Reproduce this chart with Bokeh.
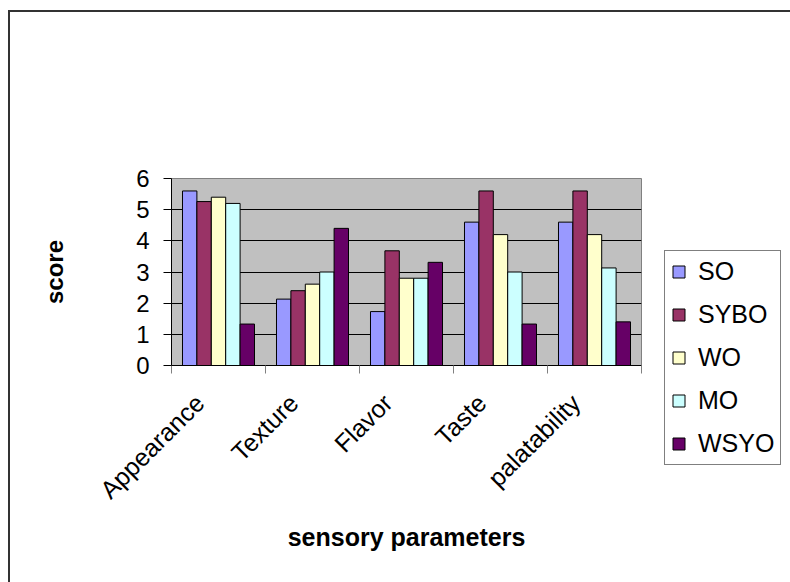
import numpy as np
from bokeh.plotting import figure
from bokeh.models import ColumnDataSource, FixedTicker, Legend, LegendItem, Range1d
from bokeh.embed import file_html
from bokeh.resources import INLINE

categories = ["Appearance", "Texture", "Flavor", "Taste", "palatability"]
series_names = ["SO", "SYBO", "WO", "MO", "WSYO"]
SO = [5.6, 2.13, 1.73, 4.6, 4.6]
SYBO = [5.26, 2.4, 3.68, 5.6, 5.6]
WO = [5.4, 2.61, 2.8, 4.2, 4.2]
MO = [5.2, 3.0, 2.8, 3.0, 3.13]
WSYO = [1.33, 4.4, 3.31, 1.33, 1.4]
series_values = [SO, SYBO, WO, MO, WSYO]
colors = ["#9999FF", "#993366", "#FFFFCC", "#CCFFFF", "#660066"]
y_ticks = [0, 1, 2, 3, 4, 5, 6]

FONT = "Liberation Sans"
n_cat = len(categories)
n_ser = len(series_names)
bar_w = 0.766 / n_ser

p = figure(
    output_backend="svg", toolbar_location=None,
    width=780, height=570,
    frame_width=470, frame_height=187,
    min_border_left=161, min_border_top=166, min_border_right=149, min_border_bottom=217,
    x_range=Range1d(0, n_cat), y_range=Range1d(0, 6),
    background_fill_color="#C0C0C0", border_fill_color="white",
    outline_line_color="#808080",
    styles={"border-left": "2px solid #333333", "border-top": "2px solid #333333"},
)
p.margin = (10, 0, 0, 8)

items = []
for k, (name, vals, col) in enumerate(zip(series_names, series_values, colors)):
    off = (k - (n_ser - 1) / 2) * bar_w
    src = ColumnDataSource(dict(x=[i + 0.5 + off for i in range(n_cat)], top=vals, cat=categories))
    r = p.vbar(x="x", top="top", bottom=0, width=bar_w, source=src,
               fill_color=col, line_color="black", line_width=1)
    items.append(LegendItem(label=name, renderers=[r]))

# axes
label_pos = [i + 0.3 for i in range(n_cat)]
p.xaxis.ticker = FixedTicker(ticks=label_pos, minor_ticks=list(range(n_cat + 1)))
p.xaxis.major_label_overrides = {t: c for t, c in zip(label_pos, categories)}
p.xaxis.major_tick_out = 0
p.xaxis.major_tick_in = 0
p.xaxis.minor_tick_out = 8
p.xaxis.minor_tick_in = 0
p.xaxis.minor_tick_line_color = "#808080"
p.xaxis.axis_line_color = "black"
p.xaxis.major_label_orientation = np.pi / 4
p.xaxis.major_label_standoff = 25
p.xaxis.major_label_text_font = FONT
p.xaxis.major_label_text_font_size = "25px"
p.xaxis.major_label_text_color = "black"
p.xaxis.axis_label = "sensory parameters"
p.xaxis.axis_label_text_font = FONT
p.xaxis.axis_label_text_font_style = "bold"
p.xaxis.axis_label_text_font_size = "25px"
p.xaxis.axis_label_text_color = "black"
p.xaxis.axis_label_standoff = 6

p.yaxis.ticker = FixedTicker(ticks=y_ticks, minor_ticks=[])
p.yaxis.major_tick_out = 8
p.yaxis.major_tick_in = 0
p.yaxis.major_tick_line_color = "black"
p.yaxis.axis_line_color = "black"
p.yaxis.major_label_standoff = 14
p.yaxis.major_label_text_font = FONT
p.yaxis.major_label_text_font_size = "24px"
p.yaxis.major_label_text_color = "black"
p.yaxis.axis_label = "score"
p.yaxis.axis_label_text_font = FONT
p.yaxis.axis_label_text_font_style = "bold"
p.yaxis.axis_label_text_font_size = "24px"
p.yaxis.axis_label_text_color = "black"
p.yaxis.axis_label_standoff = 65

p.xgrid.visible = False
p.ygrid.ticker = FixedTicker(ticks=y_ticks)
p.ygrid.grid_line_color = "black"
p.ygrid.grid_line_width = 1

legend = Legend(items=items, location=(23, -100), margin=0,
                padding=6, spacing=14, label_height=26,
                glyph_width=15, glyph_height=15, label_standoff=12,
                label_text_font=FONT, label_text_font_size="25px",
                label_text_color="black",
                border_line_color="black", border_line_width=1,
                background_fill_color="white", background_fill_alpha=1.0)
p.add_layout(legend, "right")

open("out.html", "w").write(file_html(p, INLINE))
